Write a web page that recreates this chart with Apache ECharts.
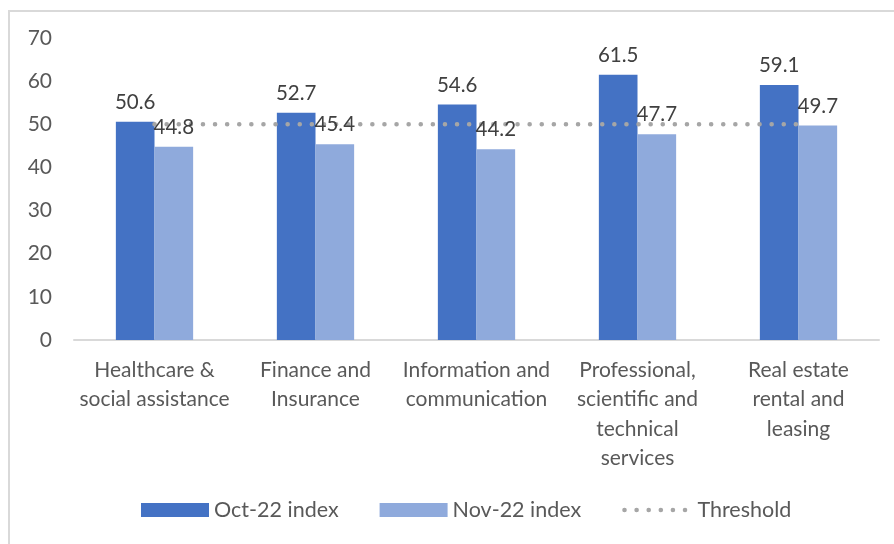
<!DOCTYPE html>
<html>
<head>
    <meta charset="utf-8">
    <style>
        html, body { margin: 0; padding: 0; background: #fff; }
        #chart { width: 894px; height: 544px; }
    </style>
    <script src="https://cdn.jsdelivr.net/npm/echarts@6/dist/echarts.min.js"></script>
</head>
<body>
    <div id="chart"></div>
    <script type="text/javascript">
        var sectors = ['Healthcare &\nsocial assistance', 'Finance and\nInsurance', 'Information and\ncommunication',
                       'Professional,\nscientific and\ntechnical\nservices', 'Real estate\nrental and\nleasing'];
        var oct22 = [50.6, 52.7, 54.6, 61.5, 59.1];
        var nov22 = [44.8, 45.4, 44.2, 47.7, 49.7];
        var threshold = [50, 50, 50, 50, 50];

        var font = 'Lato, "Open Sans", sans-serif';
        var dots = { color: '#a6a6a6', width: 4.5, type: [0.1, 12], cap: 'round' };
        var chart = echarts.init(document.getElementById('chart'));

        var option = {
            backgroundColor: '#fff',
            animation: false,
            textStyle: { fontFamily: font },
            graphic: [{
                type: 'rect',
                shape: { x: 9, y: 11, width: 920, height: 600 },
                style: { fill: null, stroke: '#d9d9d9', lineWidth: 2 },
                silent: true
            }],
            grid: { left: 74, right: 15, top: 38, bottom: 204 },
            legend: {
                bottom: 18,
                left: 136,
                itemWidth: 68,
                itemHeight: 14,
                itemGap: 41,
                textStyle: { fontSize: 21.5, color: '#595959', fontFamily: font },
                data: [
                    { name: 'Oct-22 index', icon: 'rect' },
                    { name: 'Nov-22 index', icon: 'rect' },
                    { name: 'Threshold', itemStyle: { opacity: 0 }, lineStyle: dots }
                ]
            },
            xAxis: {
                type: 'category',
                data: sectors,
                axisLine: { lineStyle: { color: '#d9d9d9', width: 2 } },
                axisTick: { show: false },
                axisLabel: { color: '#595959', fontSize: 21, lineHeight: 29.5, margin: 15, interval: 0 }
            },
            yAxis: {
                type: 'value',
                min: 0,
                max: 70,
                interval: 10,
                axisLine: { show: false },
                axisTick: { show: false },
                splitLine: { show: false },
                axisLabel: { color: '#595959', fontSize: 21, margin: 22 }
            },
            series: [{
                name: 'Oct-22 index',
                type: 'bar',
                data: oct22,
                barGap: '0%',
                barCategoryGap: '52%',
                itemStyle: { color: '#4472c4' },
                label: { show: true, position: 'top', distance: 9, color: '#404040', fontSize: 20.5 }
            }, {
                name: 'Nov-22 index',
                type: 'bar',
                data: nov22,
                itemStyle: { color: '#8faadc' },
                z: 3,
                label: { show: true, position: 'top', distance: 9, color: '#404040', fontSize: 20.5 }
            }, {
                name: 'Threshold',
                type: 'line',
                data: threshold,
                symbol: 'none',
                z: 2,
                lineStyle: dots,
                itemStyle: { color: '#a6a6a6' }
            }]
        };
        chart.setOption(option);
    </script>
</body>
</html>
